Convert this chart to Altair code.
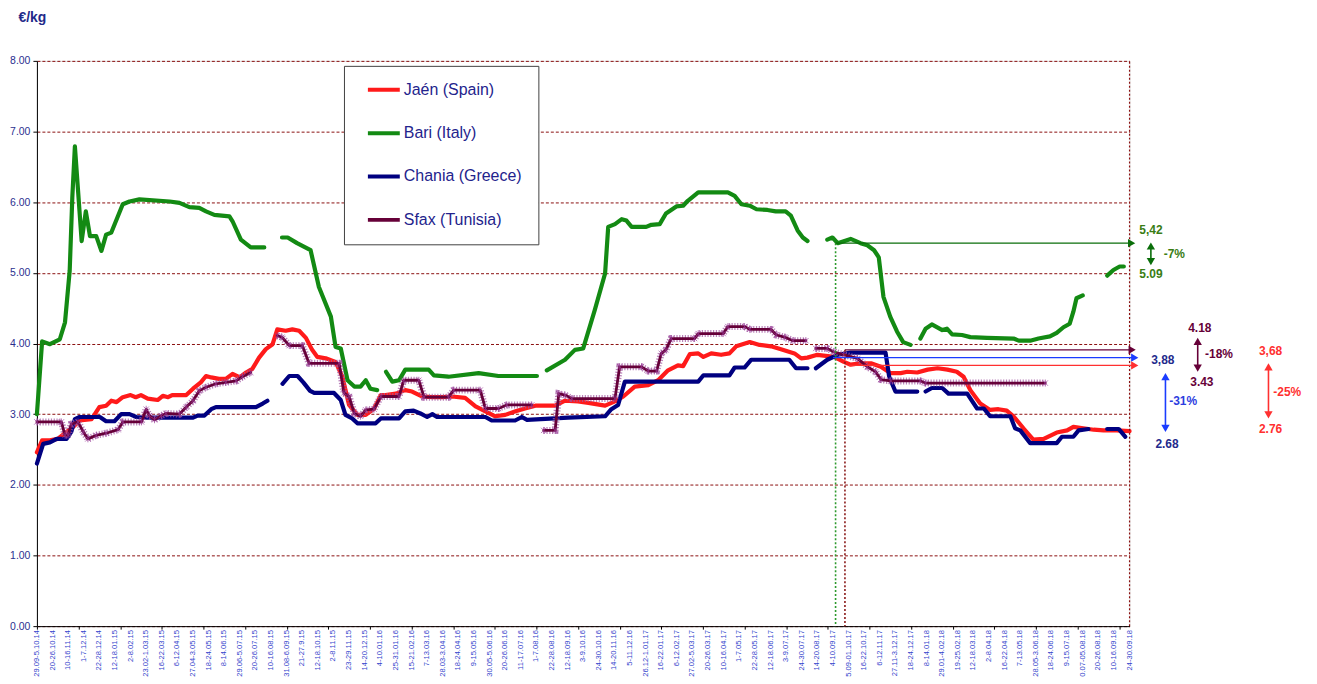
import altair as alt
import pandas as pd

# ---------------- data ----------------
WEEK_LABELS = [
    "29.09-5.10.14", "20-26.10.14", "10-16.11.14", "1-7.12.14", "22-28.12.14",
    "12-18.01.15", "2-8.02.15", "23.02-1.03.15", "16-22.03.15", "6-12.04.15",
    "27.04-3.05.15", "18-24.05.15", "8-14.06.15", "29.06-5.07.15", "20-26.07.15",
    "10-16.08.15", "31.08-6.09.15", "21-27.9.15", "12-18.10.15", "2-8.11.15",
    "23-29.11.15", "14-20.12.15", "4-10.01.16", "25-31.01.16", "15-21.02.16",
    "7-13.03.16", "28.03-3.04.16", "18-24.04.16", "9-15.05.16", "30.05-5.06.16",
    "20-26.06.16", "11-17.07.16", "1-7.08.16", "22-28.08.16", "12-18.09.16",
    "3-9.10.16", "24-30.10.16", "14-20.11.16", "5-11.12.16", "26.12-1.01.17",
    "16-22.01.17", "6-12.02.17", "27.02-5.03.17", "20-26.03.17", "10-16.04.17",
    "1-7.05.17", "22-28.05.17", "12-18.06.17", "3-9.07.17", "24-30.07.17",
    "14-20.08.17", "4-10.09.17", "25.09-01.10.17", "16-22.10.17", "6-12.11.17",
    "27.11-3.12.17", "18-24.12.17", "8-14.01.18", "29.01-4.02.18", "19-25.02.18",
    "12-18.03.18", "2-8.04.18", "16-22.04.18", "7-13.05.18", "28.05-3.06.18",
    "18-24.06.18", "9-15.07.18", "30.07-05.08.18", "20-26.08.18", "10-16.09.18",
    "24-30.09.18",
]
N_WEEKS = 211  # category slots on the x axis (one tick each)

SERIES = ["Jaén (Spain)", "Bari (Italy)", "Chania (Greece)", "Sfax (Tunisia)"]
COLORS = ["#ff1a1a", "#138a13", "#000080", "#660038"]

# week index (x) and price €/kg (y); None = gap in the line
JAEN_X = [0, 1, 2.5, 4, 5.7, 7, 8.2, 10.5, 12, 13.3, 14.3, 15.3, 16.5, 18, 19, 20, 21.3, 23.2, 24.2,
          25.2, 26, 28.7, 30, 31.5, 32.5, 33.5, 35, 36.3, 37.6, 39, 40.2, 41.4, 42.7, 44, 45.3, 46.2,
          47.8, 49.1, 50.4, 51.7, 52.9, 53.9, 55.5, 57.4, 58.7, 60, 61.6, 63.2, 64.8, 66.1, 67, 69,
          70.8, 72.1, 74, 76, 78, 79.8, 82.3, 84.3, 86.2, 88.1, 90, 92, 93.8, 95.8, 99.6, 101.5, 104,
          106, 109.2, 111.1, 112.7, 114.9, 117.5, 119.4, 121.3, 123.2, 124.2, 125.5, 127.1, 128.1,
          129.6, 131.5, 133.1, 134.4, 137, 138.9, 141.1, 143, 145.6, 146.9, 148.1, 150, 153.2, 155.1,
          156.4, 158.3, 160.3, 162.2, 164.1, 166, 167.3, 169.2, 171.2, 173.1, 175, 176.8, 178.1,
          179.4, 181.3, 183.2, 184.8, 186.4, 187.7, 189.6, 191.5, 193.5, 196, 198, 199.2, 201.1,
          203.1, 205, 207.5, 210]
JAEN_Y = [2.46, 2.63, 2.63, 2.65, 2.75, 2.82, 2.91, 2.93, 3.10, 3.12, 3.19, 3.17, 3.24, 3.27, 3.24,
          3.27, 3.22, 3.20, 3.26, 3.24, 3.27, 3.27, 3.36, 3.45, 3.54, 3.52, 3.50, 3.50, 3.57, 3.52,
          3.59, 3.64, 3.80, 3.92, 3.99, 4.20, 4.18, 4.20, 4.18, 4.08, 3.91, 3.81, 3.79, 3.74, 3.53,
          3.13, 2.99, 2.99, 3.08, 3.27, 3.27, 3.29, 3.34, 3.32, 3.25, 3.24, 3.24, 3.25, 3.23, 3.11,
          3.04, 2.97, 2.99, 3.04, 3.08, 3.12, 3.12, 3.19, 3.18, 3.16, 3.12, 3.18, 3.25, 3.39, 3.41,
          3.48, 3.62, 3.69, 3.68, 3.85, 3.86, 3.81, 3.86, 3.84, 3.86, 3.96, 4.02, 3.98, 3.96, 3.92,
          3.86, 3.79, 3.80, 3.84, 3.81, 3.74, 3.70, 3.72, 3.72, 3.67, 3.58, 3.58, 3.60, 3.59, 3.63,
          3.65, 3.63, 3.60, 3.53, 3.34, 3.15, 3.06, 3.07, 3.05, 2.97, 2.80, 2.64, 2.65, 2.74, 2.77,
          2.82, 2.80, 2.78, 2.77, 2.77, 2.76]

BARI_X = [0, 1, 2.5, 4.4, 5.4, 6.3, 6.8, 7.3, 8.6, 9.4, 10.2, 11.4, 12.4, 13.3, 14.3, 16.5, 17.8,
          19.7, 25.5, 27.4, 29.3, 31.2, 32.5, 34.1, 37, 37.6, 39.2, 41.1, 43.7, None,
          47.1, 48.2, 50, 52.6, 54.2, 56.5, 57.4, 58.4, 59.7, 61, 62.2, 63.2, 64.1, 65.4, None,
          67.1, 68.3, 69.6, 70.8, 75.3, 76.3, 79.1, 84.9, 88.7, 96.1, None,
          98, 101.5, 103.4, 105, 107.2, 109.2, 109.8, 111.1, 112.4, 113.3, 114.3, 117.1, 118.1,
          119.7, 120.9, 122.9, 124.2, 125.1, 127.1, 132.8, 134.1, 135.4, 137, 138.3, 140.4, 142,
          143.9, 144.9, 146.2, 147.2, 148.1, None,
          151.9, 152.9, 153.9, 156.4, 158.3, 159.6, 160.9, 161.8, 162.7, 164, 165.3, 166.5, 167.9,
          None,
          169.8, 170.8, 172, 174, 174.9, 175.9, 177.8, 179.4, 182.6, 187.7, 188.7, 190.9, 192.5,
          194.7, 196, 197.3, 198.5, 199.2, 199.8, 201, None,
          205.7, 206.9, 208.1, 208.9]
BARI_Y = [3.00, 4.03, 3.99, 4.06, 4.30, 5.03, 6.06, 6.79, 5.45, 5.87, 5.52, 5.52, 5.31, 5.54, 5.57,
          5.97, 6.01, 6.04, 6.01, 5.99, 5.93, 5.92, 5.87, 5.82, 5.80, 5.73, 5.47, 5.36, 5.36, None,
          5.50, 5.50, 5.42, 5.32, 4.80, 4.38, 3.95, 3.93, 3.48, 3.39, 3.39, 3.48, 3.36, 3.34, None,
          3.60, 3.46, 3.48, 3.63, 3.63, 3.55, 3.53, 3.58, 3.54, 3.54, None,
          3.62, 3.77, 3.91, 3.93, 4.47, 4.99, 5.65, 5.69, 5.76, 5.74, 5.65, 5.65, 5.68, 5.69, 5.84,
          5.94, 5.95, 6.02, 6.14, 6.14, 6.09, 5.97, 5.95, 5.90, 5.89, 5.87, 5.87, 5.81, 5.60, 5.50,
          5.45, None,
          5.47, 5.50, 5.42, 5.48, 5.42, 5.39, 5.32, 5.22, 4.66, 4.38, 4.17, 4.02, 3.98, None,
          4.07, 4.21, 4.27, 4.19, 4.21, 4.13, 4.12, 4.09, 4.08, 4.07, 4.04, 4.04, 4.07, 4.10, 4.15,
          4.23, 4.28, 4.45, 4.64, 4.68, None,
          4.96, 5.04, 5.09, 5.09]

CHANIA_X = [0, 1.2, 2.5, 3.8, 5.7, 6.6, 7.3, 8.2, 12.1, 13.3, 14.9, 16.2, 17.8, 19.1, 21, 30, 30.9,
            32.2, 33.5, 34.4, 42.1, 43.4, 44.3, None,
            47.2, 48.5, 50.1, 51.2, 52.5, 53.3, 57.1, 58.4, 59.3, 60.6, 61.6, 65.1, 66.1, 69.6,
            70.8, 72.4, 73.7, 75, 76, 76.9, 86.2, 87.4, 91.9, 93.2, 94.2, 102.1, 109.2, 110.4,
            111.7, 113, 127.1, 128.1, 133.1, 134.1, 136, 137.3, 144.6, 145.9, 148.1, None,
            149.7, 151.9, 153.9, 156.4, 163.1, 163.8, 165, 169.2, None,
            170.8, 172, 174, 175.2, 178.8, 180.7, 182, 183.2, 187.1, 188, 189, 190.9, 196, 197,
            199.2, 200.2, 202.1, None,
            205.7, 207.9, 209.2]
CHANIA_Y = [2.30, 2.58, 2.60, 2.65, 2.65, 2.75, 2.93, 2.96, 2.96, 2.90, 2.90, 3.00, 3.00, 2.96,
            2.95, 2.95, 2.98, 2.98, 3.07, 3.10, 3.10, 3.15, 3.19, None,
            3.43, 3.54, 3.54, 3.45, 3.33, 3.30, 3.30, 3.20, 2.99, 2.94, 2.87, 2.87, 2.94, 2.94,
            3.04, 3.05, 3.01, 2.96, 3.00, 2.96, 2.96, 2.91, 2.91, 2.96, 2.92, 2.95, 2.97, 3.07,
            3.13, 3.46, 3.46, 3.55, 3.55, 3.66, 3.66, 3.77, 3.77, 3.65, 3.65, None,
            3.65, 3.77, 3.84, 3.87, 3.87, 3.53, 3.32, 3.32, None,
            3.32, 3.37, 3.37, 3.29, 3.29, 3.08, 3.08, 2.97, 2.97, 2.80, 2.77, 2.59, 2.59, 2.68,
            2.68, 2.77, 2.79, None,
            2.79, 2.79, 2.68]

SFAX_X = [0, 4.7, 5.4, 6, 6.6, 7.9, 8.9, 9.8, 11.4, 13.3, 15.6, 16.5, 20.1, 21, 21.6, 22.6, 23.9,
          24.8, 27.4, 28.7, 30, 31.2, 32.5, 34.4, 36.3, 38.3, 39.5, 41.1, None,
          46.2, 47.1, 48.5, 51, 52.3, 58.1, 59, 60, 61, 62.2, 63.2, 64.8, 66.1, 69.6, 70.5, 73.4,
          74.4, 79.1, 80.1, 85.2, 86.2, 88.7, 90.3, 95.1, None,
          97.4, 99.6, 100.3, 101.5, 102.8, 111.1, 112, 116.2, 117.5, 119.1, 120, 120.9, 121.9,
          126.4, 127.1, 131.9, 132.8, 136, 137, 141.1, 142.1, 143.7, 145.3, 147.8, None,
          149.7, 151.9, 153.2, 155.1, 157.7, 159.6, 161.2, 162.2, 164.1, 169.8, 170.8, 193.8]
SFAX_Y = [2.89, 2.89, 2.70, 2.70, 2.86, 2.89, 2.75, 2.65, 2.70, 2.73, 2.78, 2.89, 2.89, 3.07, 2.98,
          2.92, 2.98, 3.01, 3.00, 3.10, 3.19, 3.33, 3.38, 3.43, 3.45, 3.47, 3.53, 3.59, None,
          4.11, 4.09, 3.97, 3.97, 3.72, 3.72, 3.30, 3.25, 3.01, 2.97, 3.06, 3.07, 3.25, 3.25, 3.48,
          3.48, 3.24, 3.24, 3.34, 3.34, 3.08, 3.08, 3.13, 3.13, None,
          2.77, 2.77, 3.29, 3.27, 3.22, 3.22, 3.67, 3.67, 3.61, 3.61, 3.86, 3.91, 4.07, 4.07, 4.14,
          4.14, 4.24, 4.24, 4.20, 4.20, 4.12, 4.09, 4.04, 4.04, None,
          3.93, 3.93, 3.88, 3.84, 3.79, 3.67, 3.60, 3.49, 3.47, 3.47, 3.44, 3.44]

# annotations
REF_GREEN_X = 153.5
REF_RED_X = 155.3
H_ARROW_START = [153.5, 155.3, 153.0, 156.0]
H_ARROW_END = [210.4, 210.5, 211.0, 211.0]
H_ARROW_Y = [5.42, 3.91, 3.80, 3.69]
H_ARROW_COL = ["#0a6e0a", "#660038", "#1a3cff", "#ff3030"]

V_ARROW_X = [214.1, 223.1, 216.9, 236.7]
V_ARROW_TOP = [5.38, 4.03, 3.53, 3.67]
V_ARROW_BOT = [5.16, 3.65, 2.80, 2.99]
V_ARROW_COL = ["#0a6e0a", "#660038", "#1a3cff", "#ff3030"]

ANN_TEXT = ["5,42", "5.09", "-7%", "4.18", "3.43", "-18%", "3,88", "2.68", "-31%", "3,68", "2.76", "-25%"]
ANN_X = [214.1, 214.1, 218.6, 223.5, 223.9, 227.2, 216.4, 217.2, 220.3, 237.1, 237.1, 240.3]
ANN_Y = [5.60, 4.98, 5.26, 4.22, 3.45, 3.85, 3.76, 2.58, 3.18, 3.90, 2.79, 3.32]
ANN_COL = ["#3a7d14", "#3a7d14", "#3a7d14", "#660038", "#660038", "#660038",
           "#232a8c", "#232a8c", "#2d3de0", "#ff3030", "#ff3030", "#ff3030"]

# ---------------- build tables ----------------
def build(name, xs, ys):
    rows, seg = [], 0
    for x, y in zip(xs, ys):
        if y is None:
            seg += 1
            continue
        rows.append({"series": name, "seg": f"{name}-{seg}", "i": x, "v": y})
    return rows

rows = []
for name, xs, ys in zip(SERIES, [JAEN_X, BARI_X, CHANIA_X, SFAX_X], [JAEN_Y, BARI_Y, CHANIA_Y, SFAX_Y]):
    rows += build(name, xs, ys)
df = pd.DataFrame(rows)

harrows = pd.DataFrame({"x0": H_ARROW_START, "x1": H_ARROW_END, "y": H_ARROW_Y, "c": H_ARROW_COL})
varrows = pd.DataFrame({"x": V_ARROW_X, "top": V_ARROW_TOP, "bot": V_ARROW_BOT, "c": V_ARROW_COL})
ann = pd.DataFrame({"t": ANN_TEXT, "x": ANN_X, "y": ANN_Y, "c": ANN_COL})
vlines = pd.DataFrame({"x": [REF_GREEN_X, REF_RED_X], "top": [H_ARROW_Y[0], H_ARROW_Y[1]],
                       "c": ["#2e9a2e", "#8b1a1a"]})
border = pd.DataFrame({"x": [N_WEEKS - 1], "y0": [0], "y1": [8]})
xlabels = pd.DataFrame({"i": list(range(0, N_WEEKS, 3)), "label": WEEK_LABELS})

FONT = "Liberation Sans"
PLOT_W, PLOT_H = 1096, 567

xscale = alt.Scale(domain=[0, N_WEEKS - 1], nice=False, zero=False)
yscale = alt.Scale(domain=[0, 8], nice=False)

x_enc = alt.X("i:Q", scale=xscale, axis=alt.Axis(
    values=list(range(0, N_WEEKS)), labels=False, tickSize=3,
    tickColor="#000000", domainColor="#000000", grid=False, title=None))
y_enc = alt.Y("v:Q", scale=yscale, axis=alt.Axis(
    values=list(range(0, 9)), format=".2f", labelFontSize=10.5, labelColor="#2b2f8f", labelFont=FONT,
    tickSize=4, tickColor="#000000", domainColor="#000000", labelPadding=3,
    grid=True, gridColor="#8b1010", gridDash=[3, 2], gridWidth=1,
    title="€/kg", titleAngle=0, titleX=-19, titleY=-43, titleAlign="left",
    titleBaseline="middle", titleFontSize=14, titleFontWeight="bold", titleColor="#1f2a8a",
    titleFont=FONT))

color = alt.Color("series:N", scale=alt.Scale(domain=SERIES, range=COLORS), legend=alt.Legend(
    title=None, orient="none", legendX=308, legendY=5, direction="vertical",
    symbolType="M-4,0L4,0", symbolStrokeWidth=4, symbolSize=64, symbolOffset=16,
    labelFontSize=16, labelFont=FONT, labelColor="#23238c", fillColor="#ffffff",
    strokeColor="#404040", padding=16, rowPadding=27.5, labelOffset=12, labelLimit=300))

# Sfax: light dashed halo under the line imitates the dense star markers
sfax_halo = (alt.Chart(df).transform_filter(alt.datum.series == SERIES[3])
             .mark_line(strokeWidth=7, strokeDash=[1.2, 1.6], color="#a35aa3", opacity=0.75)
             .encode(x="i:Q", y="v:Q", detail="seg:N", order="i:Q"))

layers = []
for k, name in enumerate(SERIES):
    if k == 3:
        layers.append(sfax_halo)
    layers.append(
        alt.Chart(df).transform_filter(alt.datum.series == name)
        .mark_line(strokeWidth=2.8 if k == 3 else 4.2, strokeJoin="round", strokeCap="round")
        .encode(x=x_enc, y=y_enc, color=color, detail="seg:N", order="i:Q")
    )

ASTER = "M-1,-1L1,1M-1,1L1,-1M0,-1.3L0,1.3"
markers = (alt.Chart(df).transform_filter(alt.datum.series == SERIES[3])
           .mark_point(shape=ASTER, size=28, filled=False, strokeWidth=1, color="#9a3a9a")
           .encode(x="i:Q", y="v:Q"))

# x-axis category labels (every third week), rotated like the reference
xlab_l = alt.Chart(xlabels).mark_text(
    angle=270, align="right", baseline="middle", fontSize=7.6, font=FONT, color="#3344cc",
).encode(x="i:Q", y=alt.value(PLOT_H + 4), text="label:N")

border_l = alt.Chart(border).mark_rule(color="#8b1010", strokeDash=[2, 2], strokeWidth=1.2).encode(
    x="x:Q", y="y0:Q", y2="y1:Q")

vline_l = alt.Chart(vlines).mark_rule(strokeDash=[2, 2], strokeWidth=1.6).encode(
    x="x:Q", y=alt.Y("top:Q"), y2=alt.datum(0), color=alt.Color("c:N", scale=None))

h_l = alt.Chart(harrows).mark_rule(strokeWidth=1.3).encode(
    x="x0:Q", x2="x1:Q", y="y:Q", color=alt.Color("c:N", scale=None))
h_head = alt.Chart(harrows).mark_point(shape="triangle-right", filled=True, size=70, opacity=1).encode(
    x="x1:Q", y="y:Q", color=alt.Color("c:N", scale=None))

v_l = alt.Chart(varrows).mark_rule(strokeWidth=1.6).encode(
    x="x:Q", y="top:Q", y2="bot:Q", color=alt.Color("c:N", scale=None))
v_top = alt.Chart(varrows).mark_point(shape="triangle-up", filled=True, size=70, opacity=1).encode(
    x="x:Q", y="top:Q", color=alt.Color("c:N", scale=None))
v_bot = alt.Chart(varrows).mark_point(shape="triangle-down", filled=True, size=70, opacity=1).encode(
    x="x:Q", y="bot:Q", color=alt.Color("c:N", scale=None))

txt = alt.Chart(ann).mark_text(font=FONT, fontSize=12, fontWeight="bold", align="center",
                               baseline="middle").encode(
    x="x:Q", y="y:Q", text="t:N", color=alt.Color("c:N", scale=None))

chart = alt.layer(
    *layers, border_l, markers, xlab_l, vline_l, h_l, h_head, v_l, v_top, v_bot, txt
).properties(
    width=PLOT_W, height=PLOT_H,
    autosize=alt.AutoSizeParams(type="none"),
    padding={"left": 29, "top": 52, "right": 180, "bottom": 50},
).configure_view(stroke=None).configure(background="#ffffff")

chart.save("out.html", embed_options={"renderer": "svg", "actions": False})
